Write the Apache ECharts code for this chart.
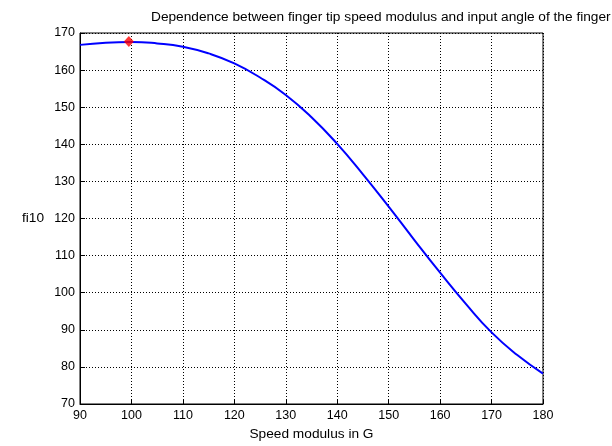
<!DOCTYPE html>
<html><head><meta charset="utf-8">
<script src="https://cdn.jsdelivr.net/npm/echarts@6/dist/echarts.min.js"></script>
<style>html,body{margin:0;padding:0;background:#fff}#c{width:612px;height:446px}</style>
</head><body><div id="c"></div>
<script>
var speed = [90, 95, 100, 105, 110, 115, 120, 125, 130, 135, 140, 145, 150, 155, 160, 165, 170, 175, 180];
var fi10  = [166.8, 167.4, 167.6, 167.2, 166.3, 164.5, 161.8, 158.0, 153.3, 147.3, 140.1, 131.9, 123.2, 114.2, 105.4, 97.0, 89.3, 83.2, 78.2];
var peak = [99.5, 167.7];
var xTicks = [90, 100, 110, 120, 130, 140, 150, 160, 170, 180];
var yTicks = [70, 80, 90, 100, 110, 120, 130, 140, 150, 160, 170];
var titleText = 'Dependence between finger tip speed modulus and input angle of the finger';
var xName = 'Speed modulus in G';
var yName = 'fi10';

var font = 'Liberation Sans, Arial, sans-serif';
var chart = echarts.init(document.getElementById('c'), null, {renderer: 'canvas'});
chart.setOption({
  animation: false,
  backgroundColor: '#fff',
  title: {text: titleText, left: 146, top: 5,
    textStyle: {fontFamily: font, fontSize: 13.7, fontWeight: 'normal', color: '#000'}},
  grid: {left: 80, right: 69, top: 33, bottom: 41, show: true, borderColor: '#000', borderWidth: 1, backgroundColor: 'transparent'},
  xAxis: {type: 'value', min: xTicks[0], max: xTicks[xTicks.length-1], interval: 10,
    name: xName, nameLocation: 'middle', nameGap: 23,
    nameTextStyle: {fontFamily: font, fontSize: 13.7, color: '#000'},
    axisLine: {show: true, onZero: false, lineStyle: {color: '#000'}},
    axisTick: {show: true, inside: true, length: 5, lineStyle: {color: '#000'}},
    axisLabel: {fontFamily: font, fontSize: 12.5, color: '#000', margin: 5},
    splitLine: {show: true, lineStyle: {color: '#000', type: [1, 2], width: 1}}},
  yAxis: {type: 'value', min: yTicks[0], max: yTicks[yTicks.length-1], interval: 10,
    name: yName, nameLocation: 'middle', nameRotate: 0, nameGap: 36,
    nameTextStyle: {fontFamily: font, fontSize: 13.7, color: '#000', padding: [0, 0, 22, 0]},
    axisLine: {show: true, onZero: false, lineStyle: {color: '#000'}},
    axisTick: {show: true, inside: true, length: 5, lineStyle: {color: '#000'}},
    axisLabel: {fontFamily: font, fontSize: 12.5, color: '#000', margin: 5},
    splitLine: {show: true, lineStyle: {color: '#000', type: [1, 2], width: 1}}},
  series: [
    {type: 'line', data: speed.map(function(x, i){ return [x, fi10[i]]; }), smooth: 0.5,
     showSymbol: false, lineStyle: {color: '#0000ff', width: 2}, z: 3},
    {type: 'scatter', data: [peak], symbol: 'diamond', symbolSize: [10, 11],
     itemStyle: {color: '#ff0000'}, z: 4}
  ]
});
</script></body></html>
